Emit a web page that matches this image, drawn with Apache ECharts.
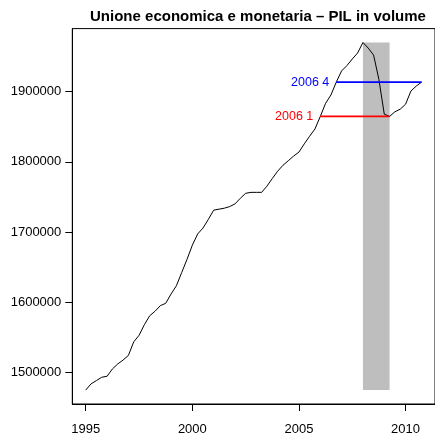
<!DOCTYPE html>
<html>
<head>
<meta charset="utf-8">
<script src="https://cdn.jsdelivr.net/npm/echarts@6/dist/echarts.min.js"></script>
<style>
  html, body { margin: 0; padding: 0; background: #fff; }
  #chart { width: 435px; height: 436px; }
</style>
</head>
<body>
<div id="chart"></div>
<script>
// PIL trimestrale, area euro, dal 1995 T1
const startYear = 1995
const gdp = [
  1474600, 1483500, 1488200, 1492900, 1494300, 1504700, 1511800, 1517400,
  1524000, 1543300, 1552700, 1567800, 1580500, 1587000, 1595000, 1598300,
  1611500, 1623300, 1642100, 1661000, 1681200, 1697200, 1705600, 1717900,
  1731100, 1732500, 1733900, 1736200, 1740000, 1748000, 1755100, 1756500,
  1756500, 1756500, 1765400, 1776200, 1786600, 1795100, 1801600, 1808200,
  1813900, 1825600, 1836500, 1846800, 1864700, 1883500, 1895300, 1913600,
  1929600, 1937200, 1946600, 1955100, 1970100, 1962100, 1952200, 1917400,
  1868000, 1864700, 1871300, 1875100, 1882100, 1900900, 1908000, 1913600
]
const xTicks = [1995, 2000, 2005, 2010]
const yTicks = [1500000, 1600000, 1700000, 1800000, 1900000]

// recessione (area grigia)
const recession = [2008.0, 2009.25]

// livelli raggiunti: linea dal trimestre indicato fino al punto di riferimento
const levels = [
  { label: '2006 1', from: 2006.0, to: 2009.25, color: '#ff0000' },
  { label: '2006 4', from: 2006.75, to: 2010.75, color: '#0000ff' }
]

const points = gdp.map((v, i) => [startYear + i / 4, v])
const valueAt = t => gdp[Math.round((t - startYear) * 4)]

const yMinData = Math.min(...gdp)
const yMaxData = Math.max(...gdp)
const xMinData = points[0][0]
const xMaxData = points[points.length - 1][0]
// estensione del 4% come in R
const padX = (xMaxData - xMinData) * 0.04
const padY = (yMaxData - yMinData) * 0.04

const chart = echarts.init(document.getElementById('chart'), null, { renderer: 'canvas' })

const font = "'Liberation Sans', Arial, sans-serif"

const levelSeries = levels.map(l => {
  const v = valueAt(l.to)
  return {
    type: 'line',
    z: 3,
    silent: true,
    symbol: 'circle',
    symbolSize: 0,
    showSymbol: true,
    lineStyle: { color: l.color, width: 1.7 },
    itemStyle: { color: l.color },
    label: { show: false },
    data: [
      {
        value: [l.from, v],
        label: {
          show: true,
          position: 'left',
          distance: 7,
          formatter: l.label,
          color: l.color,
          fontFamily: font,
          fontSize: 12.5
        }
      },
      [l.to, v]
    ]
  }
})

const option = {
  animation: false,
  title: {
    text: 'Unione economica e monetaria – PIL in volume',
    left: 253,
    top: 4,
    textAlign: 'center',
    textStyle: { fontFamily: font, fontSize: 15, fontWeight: 'bold', color: '#000' }
  },
  grid: {
    left: 72.3,
    top: 28.6,
    width: 363.1,
    height: 379.1,
    show: true,
    borderColor: '#000',
    borderWidth: 1
  },
  xAxis: {
    type: 'value',
    min: xMinData - padX,
    max: xMaxData + padX,
    axisLine: { show: true, lineStyle: { color: '#000', width: 1 } },
    axisTick: { show: true, inside: false, length: 7, customValues: xTicks, lineStyle: { color: '#000' } },
    axisLabel: {
      customValues: xTicks,
      formatter: v => String(v),
      margin: 19,
      color: '#000',
      fontFamily: font,
      fontSize: 13
    },
    splitLine: { show: false }
  },
  yAxis: {
    type: 'value',
    min: yMinData - padY,
    max: yMaxData + padY,
    axisLine: { show: true, lineStyle: { color: '#000', width: 1 } },
    axisTick: { show: true, inside: false, length: 7, customValues: yTicks, lineStyle: { color: '#000' } },
    axisLabel: {
      customValues: yTicks,
      formatter: v => String(v),
      margin: 11,
      color: '#000',
      fontFamily: font,
      fontSize: 13
    },
    splitLine: { show: false }
  },
  series: [
    {
      type: 'line',
      z: 1,
      silent: true,
      symbol: 'none',
      data: [],
      markArea: {
        silent: true,
        itemStyle: { color: '#bebebe', opacity: 1 },
        data: [[
          { xAxis: recession[0], yAxis: yMinData },
          { xAxis: recession[1], yAxis: yMaxData }
        ]]
      }
    },
    {
      type: 'line',
      z: 2,
      silent: true,
      symbol: 'none',
      lineStyle: { color: '#000', width: 1 },
      data: points
    },
    ...levelSeries
  ]
}

chart.setOption(option)

window.addEventListener('resize', () => chart.resize(), { passive: true })
</script>
</body>
</html>
